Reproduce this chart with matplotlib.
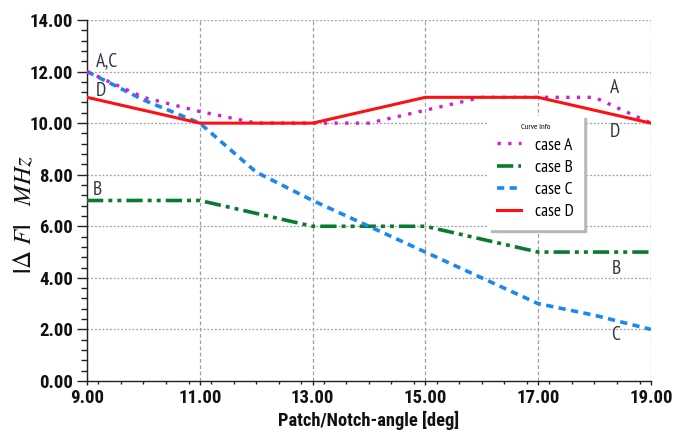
import matplotlib

matplotlib.use("Agg")
import matplotlib.pyplot as plt
from matplotlib.ticker import MultipleLocator, FormatStrFormatter

# data
angle_deg = [9, 10, 11, 12, 13, 14, 15, 16, 17, 18, 19]
case_a = [12.0, 11.0, 10.45, 10.0, 10.0, 10.0, 10.5, 11.0, 11.0, 11.0, 10.0]
case_b = [7.0, 7.0, 7.0, 6.5, 6.0, 6.0, 6.0, 5.5, 5.0, 5.0, 5.0]
case_c = [12.0, 10.9, 10.0, 8.1, 7.0, 6.0, 5.0, 4.0, 3.0, 2.55, 2.0]
case_d = [11.0, 10.5, 10.0, 10.0, 10.0, 10.5, 11.0, 11.0, 11.0, 10.5, 10.0]

curve_labels = ["A,C", "D", "B", "A", "D", "B", "C"]
curve_label_x = [9.16, 9.16, 9.1, 18.27, 18.27, 18.3, 18.3]
curve_label_y = [12.4, 11.25, 7.4, 11.35, 9.65, 4.35, 1.8]

BOLD_NARROW = ["Roboto Condensed", "DejaVu Sans"]
THIN_NARROW = ["PT Sans Narrow", "Roboto Condensed", "DejaVu Sans"]
plt.rcParams["mathtext.fontset"] = "stix"

fig = plt.figure(figsize=(6.88, 4.34), dpi=100)
ax = fig.add_axes([0.1265, 0.1221, 0.8195, 0.8319])

ax.plot(angle_deg, case_a, color="#d020d0", linewidth=2.4,
        linestyle=(0, (1, 2.2)), label="case A", zorder=4)
ax.plot(angle_deg, case_b, color="#0a7a30", linewidth=2.6,
        linestyle=(0, (4.5, 1.4, 1.1, 1.4, 1.1, 1.4)), label="case B", zorder=3)
ax.plot(angle_deg, case_c, color="#1a88f0", linewidth=2.6,
        linestyle=(0, (2.0, 1.5)), label="case C", zorder=3)
ax.plot(angle_deg, case_d, color="#ff1010", linewidth=2.2,
        linestyle="-", label="case D", zorder=5)

for txt, x, y in zip(curve_labels, curve_label_x, curve_label_y):
    ax.text(x, y, txt, family=THIN_NARROW, fontsize=14, color="#333344",
            ha="left", va="center")

ax.set_xlim(9, 19)
ax.set_ylim(0, 14)
ax.xaxis.set_major_locator(MultipleLocator(2, offset=1))
ax.xaxis.set_minor_locator(MultipleLocator(0.4))
ax.yaxis.set_major_locator(MultipleLocator(2))
ax.yaxis.set_minor_locator(MultipleLocator(0.4))
ax.xaxis.set_major_formatter(FormatStrFormatter("%.2f"))
ax.yaxis.set_major_formatter(FormatStrFormatter("%.2f"))

ax.grid(True, axis="x", which="major", color="#a0a0a0", linestyle=(0, (3, 2)),
        linewidth=0.9)
ax.grid(True, axis="y", which="major", color="#a0a0a0", linestyle=(0, (1.5, 1.5)),
        linewidth=0.9)
ax.set_axisbelow(True)

for side in ("top", "right"):
    ax.spines[side].set_visible(False)
for side in ("left", "bottom"):
    ax.spines[side].set_color("#222222")
    ax.spines[side].set_linewidth(1.0)

ax.tick_params(axis="y", which="major", direction="out", length=7, width=1,
               color="#222222", pad=3)
ax.tick_params(axis="y", which="minor", direction="out", length=4, width=1,
               color="#222222")
ax.tick_params(axis="x", which="major", direction="out", length=3, width=1,
               color="#222222", pad=3)
ax.tick_params(axis="x", which="minor", direction="out", length=2.5, width=1,
               color="#222222")
for lab in ax.get_xticklabels() + ax.get_yticklabels():
    lab.set_family(BOLD_NARROW)
    lab.set_fontsize(13.5)
    lab.set_fontweight("bold")
    lab.set_color("#111111")

ax.set_xlabel("Patch/Notch-angle [deg]", family=BOLD_NARROW, fontsize=13.3,
              fontweight="bold", color="#111111")
ax.xaxis.set_label_coords(0.5, -0.108)
ax.xaxis.label.set_va("center")
ax.set_ylabel(r"$\mathbf{|}\Delta\ F\mathbf{|}\quad MHz$", fontsize=18,
              color="#111111")
ax.yaxis.set_label_coords(-0.112, 0.46)
ax.yaxis.label.set_va("center")

leg = ax.legend(loc="upper left", bbox_to_anchor=(0.712, 0.735),
                title="Curve Info", frameon=True, fancybox=False,
                shadow={"color": "#b8b8b8", "alpha": 1.0},
                prop={"family": THIN_NARROW, "size": 12.5},
                handlelength=1.4, handletextpad=0.8, labelspacing=0.35,
                borderpad=0.5, borderaxespad=0)
leg.get_frame().set_edgecolor("white")
leg.get_frame().set_facecolor("white")
leg.get_title().set_fontsize(6)
leg.get_title().set_family(THIN_NARROW)
leg.set_zorder(6)

fig.savefig("out.png", dpi=100)
